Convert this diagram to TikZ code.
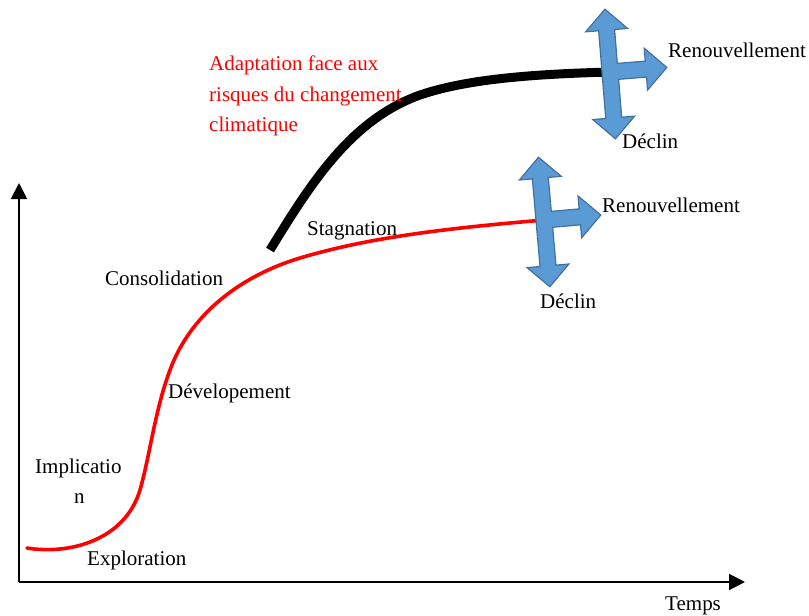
\documentclass[tikz,border=0pt]{standalone}
\usepackage{fontspec}
\setmainfont{Liberation Serif}
\usetikzlibrary{arrows.meta}
\definecolor{crossfill}{HTML}{5B9BD5}
\definecolor{crossline}{HTML}{41719C}
\begin{document}
\begin{tikzpicture}[x=1pt,y=-1pt,
  lbl/.style={anchor=base west, inner sep=0pt, font=\fontsize{21}{25}\selectfont},
  axisline/.style={line width=2pt, -{Triangle[length=16pt,width=16pt]}},
  crossshape/.style={fill=crossfill, draw=crossline, line width=1.2pt, line join=miter},
  cross/.pic={
    \path[crossshape] (0,-63) -- (21,-42) -- (8,-42) -- (8,-8) -- (36,-8) -- (36,-21)
      -- (57,0) -- (36,21) -- (36,8) -- (8,8) -- (8,46) -- (21,46) -- (0,67)
      -- (-21,46) -- (-8,46) -- (-8,-42) -- (-21,-42) -- cycle;
  }]
\useasboundingbox (0,0) rectangle (809,616);

% axes
\coordinate (O) at (19,582);
\coordinate (ytip) at (19,183);
\coordinate (xtip) at (745,582);
\draw[axisline] (O) -- (ytip);
\draw[axisline] (O) -- (xtip);

% cross centres
\coordinate (c1) at (610,72);
\coordinate (c2) at (544,220);

% red curve
\draw[red, line width=3.6pt, line cap=round]
  (27,548) .. controls (70,555) and (125,540) .. (140,490)
  .. controls (150,455) and (155,410) .. (170,370)
  .. controls (190,315) and (240,276) .. (300,258)
  .. controls (370,237) and (450,228) .. (c2);

% black curve
\draw[black, line width=9pt]
  (270,250) .. controls (310,185) and (350,120) .. (420,95)
  .. controls (470,78) and (540,74) .. (c1);

% crosses
\pic[rotate=4.6] at (c1) {cross};
\pic[rotate=5] at (c2) {cross};

% labels
\node[lbl] (ren1) at (668,57) {Renouvellement};
\node[lbl] (dec1) at (622,148) {Déclin};
\node[lbl] (ren2) at (602,212) {Renouvellement};
\node[lbl] (dec2) at (540,308) {Déclin};
\node[lbl] (stag) at (307,235) {Stagnation};
\node[lbl] (cons) at (105,285) {Consolidation};
\node[lbl] (dev) at (168,398) {Dévelopement};
\node[lbl] (impl) at (35,473) {Implicatio};
\node[lbl] (impln) at (74,503) {n};
\node[lbl] (expl) at (87,565) {Exploration};
\node[lbl] (temps) at (665,610) {Temps};
\node[anchor=north west, inner sep=0pt, align=left, text=red,
  font=\fontsize{21}{30.5}\selectfont] (adapt) at (209,56)
  {Adaptation face aux\\risques du changement\\climatique};
\end{tikzpicture}
\end{document}
